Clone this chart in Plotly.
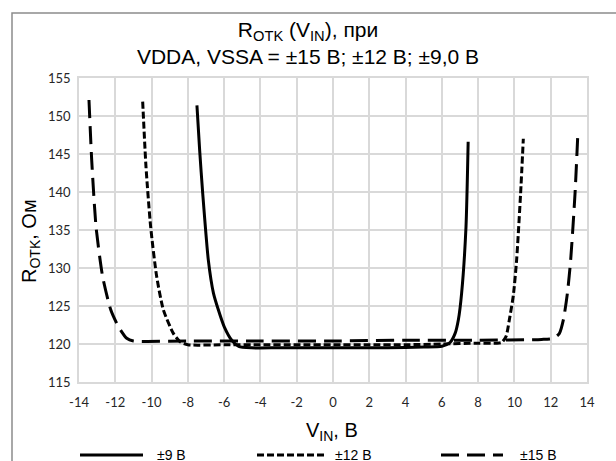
import plotly.graph_objects as go

# ---- data ----
x9 = [-7.5, -7.35, -7.18, -6.87, -6.59, -6.32, -6.0, -5.58, -5.2, -4.5, -3, -1, 0, 1, 3, 5, 6.0, 6.45, 6.73, 6.91, 7.09, 7.33, 7.45]
y9 = [151.4, 145.5, 139.8, 131.0, 126.7, 124.5, 122.3, 120.5, 119.7, 119.5, 119.5, 119.5, 119.5, 119.5, 119.5, 119.6, 119.7, 120.2, 121.4, 123.2, 126.7, 135.4, 146.6]

x12 = [-10.49, -10.31, -10.05, -9.72, -9.35, -8.8, -8.43, -8, -6, -4, -2, 0, 2, 4, 6, 8, 9.0, 9.3, 9.54, 9.72, 9.94, 10.12, 10.34, 10.49]
y12 = [151.9, 143.4, 135.4, 128.9, 124.5, 121.4, 120.3, 119.9, 119.9, 119.9, 119.9, 119.9, 119.9, 119.9, 120.0, 120.1, 120.1, 120.2, 121.0, 123.2, 126.4, 131.05, 139.8, 147.0]

x15 = [-13.45, -13.3, -13.06, -12.7, -12.25, -11.83, -11.37, -11.0, -8, -4, 0, 4, 8, 11.5, 12.15, 12.48, 12.7, 12.92, 13.1, 13.34, 13.49]
y15 = [152.1, 144.2, 135.4, 128.9, 124.5, 122.3, 120.75, 120.4, 120.4, 120.4, 120.4, 120.5, 120.5, 120.6, 120.75, 121.4, 123.2, 126.7, 131.05, 139.8, 147.4]

series_names = ["±9 В", "±12 В", "±15 В"]
x_ticks = list(range(-14, 15, 2))
y_ticks = list(range(115, 156, 5))

title_text = "R<sub>OTK</sub> (V<sub>IN</sub>), при<br>VDDA, VSSA = ±15 В; ±12 В; ±9,0 В"
xtitle = "V<sub>IN</sub>, В"
ytitle = "R<sub>OTK</sub>, Ом"

# ---- styles ----
W, H = 616, 461
ML, MR, MT, MB = 79, 29, 78, 79
PW, PH = W - ML - MR, H - MT - MB


def px2x(px):
    return (px - ML) / PW


def px2y(py):
    return (H - MB - py) / PH


dashes = ["solid", "7px,3px", "18px,8px"]
LW = 3

fig = go.Figure()
for xs, ys, name, d in zip([x9, x12, x15], [y9, y12, y15], series_names, dashes):
    fig.add_trace(go.Scatter(x=xs, y=ys, mode="lines", name=name,
                             line=dict(color="black", width=LW, dash=d,
                                       shape="spline", smoothing=0.6),
                             showlegend=False))

grid = "#d9d9d9"
tickfont = dict(family="Lato, Carlito, sans-serif", size=13, color="#262626")
fig.update_xaxes(range=[-14, 14], tickvals=x_ticks, ticktext=[str(v) for v in x_ticks],
                 showgrid=True, gridcolor=grid, gridwidth=1.5, zeroline=False,
                 showline=True, linecolor=grid, linewidth=1.5, mirror=True,
                 ticks="", tickfont=tickfont, ticklabelstandoff=8)
fig.update_yaxes(range=[115, 155], tickvals=y_ticks, ticktext=[str(v) for v in y_ticks],
                 showgrid=True, gridcolor=grid, gridwidth=1.5, zeroline=False,
                 showline=True, linecolor=grid, linewidth=1.5, mirror=True,
                 ticks="", tickfont=tickfont, ticklabelstandoff=4)

shapes = []
# outer chart border
shapes.append(dict(type="rect", xref="paper", yref="paper",
                   x0=px2x(12), x1=px2x(640), y0=px2y(490), y1=px2y(13),
                   line=dict(color="#8c8c8c", width=1.5), layer="above"))

# manual legend
leg_y = px2y(455)
leg_lines = [(80, 143), (257, 325), (441, 503)]
leg_text_x = [155, 333, 518]
annotations = []
for (a, b), tx, name, d in zip(leg_lines, leg_text_x, series_names, dashes):
    shapes.append(dict(type="line", xref="paper", yref="paper",
                       x0=px2x(a), x1=px2x(b), y0=leg_y, y1=leg_y,
                       line=dict(color="black", width=LW, dash=d)))
    annotations.append(dict(text=name, xref="paper", yref="paper", x=px2x(tx), y=leg_y,
                            xanchor="left", yanchor="middle", showarrow=False,
                            font=dict(family="Liberation Sans, Arial", size=14, color="black")))

titlefont = dict(family="Liberation Sans, Arial", size=20, color="black")
annotations.append(dict(text=xtitle, xref="paper", yref="paper", x=px2x(332), y=px2y(431),
                        xanchor="center", yanchor="middle", showarrow=False, font=titlefont))
annotations.append(dict(text=ytitle, xref="paper", yref="paper", x=px2x(31), y=px2y(241),
                        xanchor="center", yanchor="middle", showarrow=False, textangle=-90,
                        font=titlefont))

fig.update_layout(
    width=W, height=H,
    margin=dict(l=ML, r=MR, t=MT, b=MB, autoexpand=False),
    paper_bgcolor="white", plot_bgcolor="white",
    title=dict(text=title_text, x=0.5, xref="container", xanchor="center",
               y=1 - 37 / H, yref="container", yanchor="top",
               font=dict(family="Liberation Sans, Arial", size=21, color="black")),
    shapes=shapes, annotations=annotations, showlegend=False,
)

fig.write_html("out.html")
